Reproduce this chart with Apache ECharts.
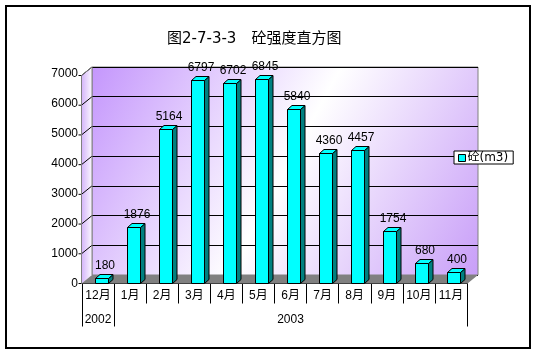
<!DOCTYPE html>
<html>
<head>
<meta charset="utf-8">
<style>html,body{margin:0;padding:0;background:#fff;}#c{width:537px;height:355px;}</style>
<script src="https://cdn.jsdelivr.net/npm/echarts@6/dist/echarts.min.js"></script>
</head>
<body>
<div id="c"></div>
<script>
const categories = ['12月','1月','2月','3月','4月','5月','6月','7月','8月','9月','10月','11月'];
const values = [180,1876,5164,6797,6702,6845,5840,4360,4457,1754,680,400];
const yearLabels = ['2002','','','','','','2003','','','','',''];
const yMin = 0, yMax = 7000, yStep = 1000;
const seriesName = '砼(m3)';
const titleText = '图2-7-3-3　砼强度直方图';

const FONT = "'Liberation Sans','Noto Sans CJK SC',sans-serif";
const TFONT = "'DejaVu Sans','Noto Sans CJK SC',sans-serif";
const DX = 10.5, DY = 8.5; // depth offset front->back

const chart = echarts.init(document.getElementById('c'), null, {renderer:'canvas'});

function wallsItem(params, api) {
  const cs = params.coordSys; // back wall rect
  const bx0 = cs.x, bx1 = cs.x + cs.width, by0 = cs.y, by1 = cs.y + cs.height;
  const fx0 = bx0 - DX, fx1 = bx1 - DX;
  const children = [];
  children.push({type:'polygon', shape:{points:[[fx0, by1+DY],[fx0, by0+DY],[bx0, by0],[bx0, by1]]},
    style:{fill:{type:'linear',x:0,y:0,x2:1,y2:0,colorStops:[{offset:0,color:'#D4B4FA'},{offset:1,color:'#FBF8FF'}]}, stroke:null}});
  children.push({type:'polygon', shape:{points:[[fx0, by1+DY],[fx1, by1+DY],[bx1, by1],[bx0, by1]]},
    style:{fill:'#808080', stroke:null}});
  for (let v = yMin; v <= yMax; v += yStep) {
    const yb = api.coord([0, v])[1];
    children.push({type:'line', shape:{x1:fx0-3, y1:yb+DY, x2:fx0, y2:yb+DY}, style:{stroke:'#000', lineWidth:1}});
    if (v > yMin) children.push({type:'line', shape:{x1:fx0, y1:yb+DY, x2:bx0, y2:yb}, style:{stroke:'#000', lineWidth:1}});
  }
  children.push({type:'line', shape:{x1:fx0, y1:by1+DY, x2:fx0, y2:by0+DY}, style:{stroke:'#808080', lineWidth:1}});
  children.push({type:'line', shape:{x1:fx0, y1:by0+DY, x2:bx0, y2:by0}, style:{stroke:'#808080', lineWidth:1}});
  children.push({type:'line', shape:{x1:bx0, y1:by0, x2:bx0, y2:by1}, style:{stroke:'#808080', lineWidth:1}});
  return {type:'group', children};
}

function barItem(params, api) {
  const idx = api.value(0), v = api.value(1);
  const p = api.coord([idx, v]);
  const b = api.coord([idx, 0]);
  const cx = p[0];
  const x0 = Math.round(cx - 3.5) + 0.5, x1 = Math.round(cx + 9.5) + 0.5;
  const top = Math.round(p[1]) + 0.5, base = Math.round(b[1]) - 0.5;
  const d = 4.5, dy = 4;
  const st = {stroke:'#000', lineWidth:1};
  return {type:'group', children:[
    {type:'polygon', shape:{points:[[x1,top],[x1+d,top-dy],[x1+d,base-dy],[x1,base]]}, style:Object.assign({fill:'#008080'}, st)},
    {type:'rect', shape:{x:x0, y:top, width:x1-x0, height:Math.max(base-top,0)}, style:Object.assign({fill:'#00FFFF'}, st)},
    {type:'polygon', shape:{points:[[x0,top],[x0+d,top-dy],[x1+d,top-dy],[x1,top]]}, style:Object.assign({fill:'#00FFFF'}, st)},
    {type:'text', style:{text:String(v), x:(x0+x1)/2 + 3, y:top - dy - 3, align:'center', verticalAlign:'bottom',
      fill:'#000', font:'12px ' + FONT}}
  ]};
}

const option = {
  animation:false,
  backgroundColor:'#fff',
  textStyle:{fontFamily:FONT},
  title:{text:titleText, left:167, top:32, padding:0,
    textStyle:{fontSize:15, fontWeight:'normal', color:'#000', fontFamily:TFONT}},
  legend:{left:454, top:151, orient:'vertical', padding:[1,5,0,4], itemWidth:7, itemHeight:7, itemGap:0,
    backgroundColor:'#fff', borderColor:'#000', borderWidth:1, borderRadius:0,
    textStyle:{fontSize:12, color:'#000', fontFamily:TFONT, padding:[0,0,0,-3]},
    data:[{name:seriesName, icon:'rect', itemStyle:{color:'#00FFFF', borderColor:'#000', borderWidth:1}}]},
  grid:[
    {left:82, right:70, top:74, bottom:71.5, show:false},
    {left:92, right:59, top:67, bottom:80, show:true, borderColor:'#808080', borderWidth:1,
      backgroundColor:{type:'linear', x:0, y:0, x2:1, y2:1, colorStops:[
        {offset:0, color:'#C496FC'}, {offset:0.5, color:'#FFFFFF'}, {offset:1, color:'#C89EF8'}]}}
  ],
  xAxis:[
    {type:'category', gridIndex:0, data:categories, position:'bottom',
      axisLine:{show:true, lineStyle:{color:'#000', width:1}},
      axisTick:{show:true, interval:0, length:20, lineStyle:{color:'#000'}},
      axisLabel:{interval:0, margin:6, fontSize:12, color:'#000', fontFamily:FONT}},
    {type:'category', gridIndex:0, data:yearLabels, position:'bottom', offset:0,
      axisLine:{show:false},
      axisTick:{show:true, length:43, interval:function(i){return i===0||i===1;}, lineStyle:{color:'#000'}},
      axisLabel:{interval:0, margin:30, fontSize:12, color:'#000', fontFamily:FONT}},
    {type:'category', gridIndex:1, data:categories, show:false}
  ],
  yAxis:[
    {type:'value', gridIndex:0, min:yMin, max:yMax, interval:yStep,
      axisLine:{show:false}, axisTick:{show:false}, splitLine:{show:false},
      axisLabel:{margin:4, fontSize:12, color:'#000', fontFamily:FONT, padding:[3,0,0,0],
        formatter:function(v){return String(v);}}},
    {type:'value', gridIndex:1, min:yMin, max:yMax, interval:yStep,
      axisLine:{show:false}, axisTick:{show:false}, axisLabel:{show:false},
      splitLine:{show:true, lineStyle:{color:'#000', width:1}}}
  ],
  series:[
    {type:'custom', name:'walls', xAxisIndex:2, yAxisIndex:1, silent:true, clip:false, z:1,
      renderItem:wallsItem, data:[[0,0]]},
    {type:'custom', name:seriesName, xAxisIndex:0, yAxisIndex:0, clip:false, z:3,
      itemStyle:{color:'#00FFFF', borderColor:'#000', borderWidth:1},
      renderItem:barItem, encode:{x:0, y:1},
      data:values.map((v,i)=>[i,v])}
  ],
  graphic:[
    {type:'rect', shape:{x:6, y:6, width:524, height:342}, style:{fill:null, stroke:'#000', lineWidth:2}, silent:true, z:100}
  ]
};
chart.setOption(option);
</script>
</body>
</html>
